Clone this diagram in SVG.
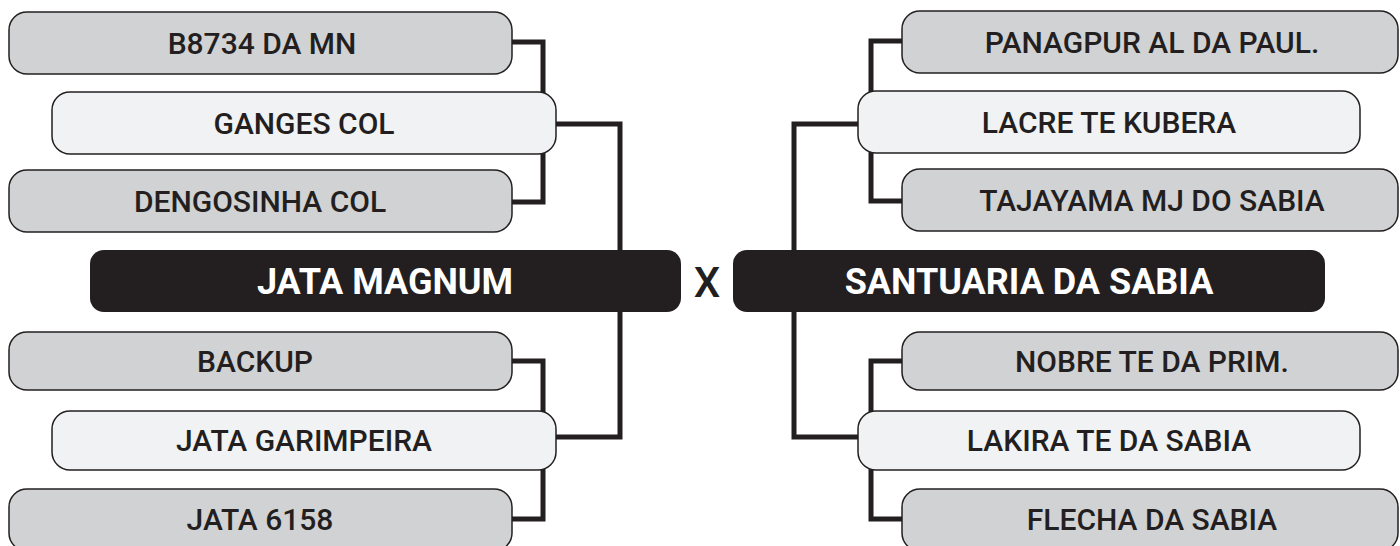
<svg xmlns="http://www.w3.org/2000/svg" width="1400" height="546" viewBox="0 0 1400 546">
<style>
.g{fill:#d1d2d4;stroke:#231f20;stroke-width:1.5}
.l{fill:#f1f2f3;stroke:#231f20;stroke-width:1.5}
.d{fill:#231f20}
.t{font-family:Roboto,"Liberation Sans",sans-serif;font-weight:500;font-size:30px;fill:#231f20;text-anchor:middle}
.b{font-family:Roboto,"Liberation Sans",sans-serif;font-weight:700;font-size:36px;fill:#ffffff;text-anchor:middle}
.x{font-family:Roboto,"Liberation Sans",sans-serif;font-weight:500;font-size:42px;fill:#231f20;text-anchor:middle}
.c{fill:none;stroke:#231f20;stroke-width:5;stroke-linejoin:miter}
</style>
<rect width="1400" height="546" fill="#ffffff"/>
<g id="connectors">
<path class="c" d="M512 42H543V202H512"/>
<path class="c" d="M556 124H620V437H556"/>
<path class="c" d="M512 361H543V519H512"/>
<path class="c" d="M902 41H871V201H902"/>
<path class="c" d="M858 124H794V437H858"/>
<path class="c" d="M902 361H871V519H902"/>
</g>
<g id="n-b8734"><rect class="g" x="9" y="12" width="503" height="62" rx="18"/><text class="t" x="262" y="54">B8734 DA MN</text></g>
<g id="n-ganges"><rect class="l" x="52" y="92" width="504" height="62" rx="18"/><text class="t" x="304" y="134">GANGES COL</text></g>
<g id="n-dengosinha"><rect class="g" x="9" y="170" width="503" height="62" rx="18"/><text class="t" x="260" y="212">DENGOSINHA COL</text></g>
<g id="n-jata-magnum"><rect class="d" x="90" y="250" width="591" height="62" rx="14"/><text class="b" x="385" y="294">JATA MAGNUM</text></g>
<g id="n-x"><text class="x" x="707" y="297">X</text></g>
<g id="n-santuaria"><rect class="d" x="733" y="250" width="592" height="62" rx="14"/><text class="b" x="1029" y="294">SANTUARIA DA SABIA</text></g>
<g id="n-backup"><rect class="g" x="9" y="332" width="503" height="58" rx="18"/><text class="t" x="255" y="372">BACKUP</text></g>
<g id="n-garimpeira"><rect class="l" x="52" y="411" width="504" height="59" rx="18"/><text class="t" x="304" y="451">JATA GARIMPEIRA</text></g>
<g id="n-jata6158"><rect class="g" x="9" y="489" width="503" height="62" rx="18"/><text class="t" x="260" y="530">JATA 6158</text></g>
<g id="n-panagpur"><rect class="g" x="902" y="11" width="496" height="62" rx="18"/><text class="t" x="1152" y="53">PANAGPUR AL DA PAUL.</text></g>
<g id="n-lacre"><rect class="l" x="858" y="91" width="502" height="62" rx="18"/><text class="t" x="1109" y="133">LACRE TE KUBERA</text></g>
<g id="n-tajayama"><rect class="g" x="902" y="169" width="496" height="62" rx="18"/><text class="t" x="1152" y="211">TAJAYAMA MJ DO SABIA</text></g>
<g id="n-nobre"><rect class="g" x="902" y="332" width="496" height="58" rx="18"/><text class="t" x="1152" y="372">NOBRE TE DA PRIM.</text></g>
<g id="n-lakira"><rect class="l" x="858" y="411" width="502" height="59" rx="18"/><text class="t" x="1109" y="451">LAKIRA TE DA SABIA</text></g>
<g id="n-flecha"><rect class="g" x="902" y="489" width="496" height="62" rx="18"/><text class="t" x="1152" y="530">FLECHA DA SABIA</text></g>
</svg>
